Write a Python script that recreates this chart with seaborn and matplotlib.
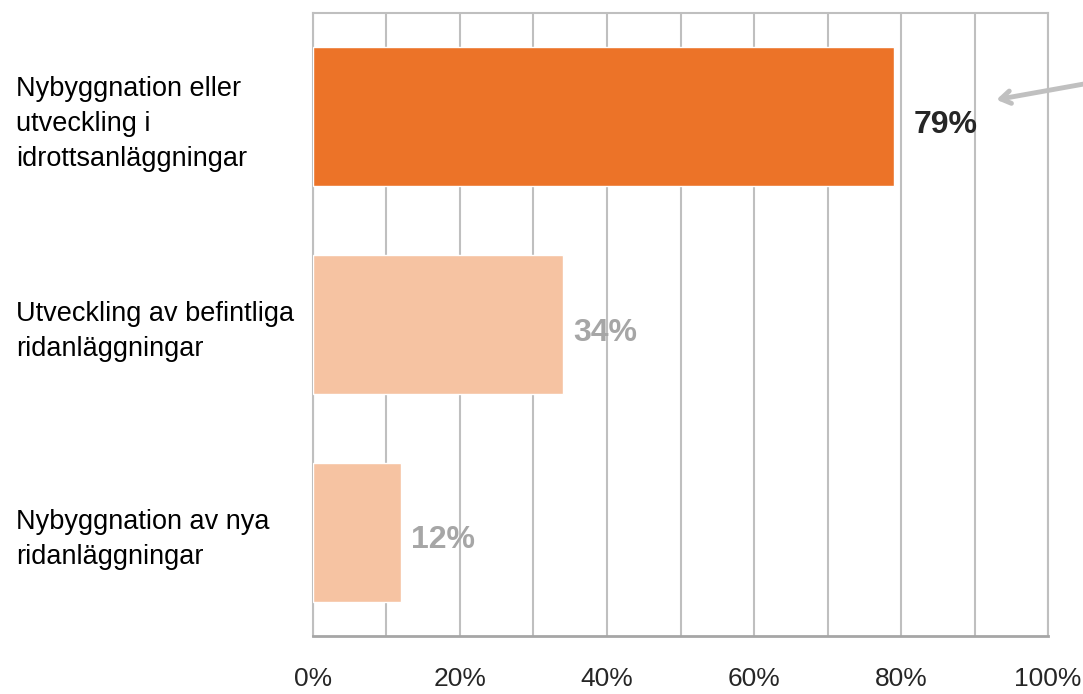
import matplotlib.pyplot as plt
import seaborn as sns
import pandas as pd
from matplotlib.ticker import MultipleLocator, FuncFormatter

# Data
kategorier = ["Nybyggnation eller\nutveckling i\nidrottsanläggningar",
              "Utveckling av befintliga\nridanläggningar",
              "Nybyggnation av nya\nridanläggningar"]
andel = [79, 34, 12]
etiketter = ["79%", "34%", "12%"]
farger = ["#EC7328", "#F6C3A2", "#F6C3A2"]
etikett_farger = ["#262626", "#A6A6A6", "#A6A6A6"]
etikett_avstand = [2.7, 1.4, 1.4]

df = pd.DataFrame({"kategori": kategorier, "andel": andel})

sns.set_style("white")
plt.rcParams["font.family"] = ["Liberation Sans Narrow", "Liberation Sans", "DejaVu Sans"]

fig = plt.figure(figsize=(10.83, 6.94), dpi=100)
ax = fig.add_axes([0.289, 0.0836, 0.6787, 0.8977])

sns.barplot(data=df, y="kategori", x="andel", hue="kategori", palette=farger,
            saturation=1, orient="h", width=0.67, legend=False, ax=ax, zorder=3)

ax.set_xlim(0, 100)
ax.set_ylim(2.5, -0.5)
ax.xaxis.set_major_locator(MultipleLocator(20))
ax.xaxis.set_minor_locator(MultipleLocator(10))
ax.xaxis.set_major_formatter(FuncFormatter(lambda v, p: f"{v:.0f}%"))
ax.grid(axis="x", which="both", color="#BFBFBF", linewidth=1.5, zorder=0)
ax.set_axisbelow(True)
for s in ax.spines.values():
    s.set_color("#BFBFBF")
    s.set_linewidth(1.5)
ax.spines["bottom"].set_color("#A6A6A6")
ax.spines["bottom"].set_linewidth(2)

ax.set_xlabel("")
ax.set_ylabel("")
ax.tick_params(axis="x", which="both", length=0, pad=22, labelsize=19, labelcolor="#262626")
ax.tick_params(axis="y", length=0, pad=214, labelsize=19.5, labelcolor="#000000")
for t in ax.get_yticklabels():
    t.set_ha("left")
    t.set_linespacing(1.45)

for i, (v, txt, c, d) in enumerate(zip(andel, etiketter, etikett_farger, etikett_avstand)):
    ax.text(v + d, i + 0.04, txt, ha="left", va="center", fontsize=23,
            fontweight="bold", color=c, zorder=4)

ax.annotate("", xy=(92.6, -0.08), xytext=(105.2, -0.16),
            arrowprops=dict(arrowstyle="->,head_length=0.7,head_width=0.45",
                            color="#C0C0C0", lw=3.5),
            annotation_clip=False)

fig.savefig("out.png", dpi=100)
